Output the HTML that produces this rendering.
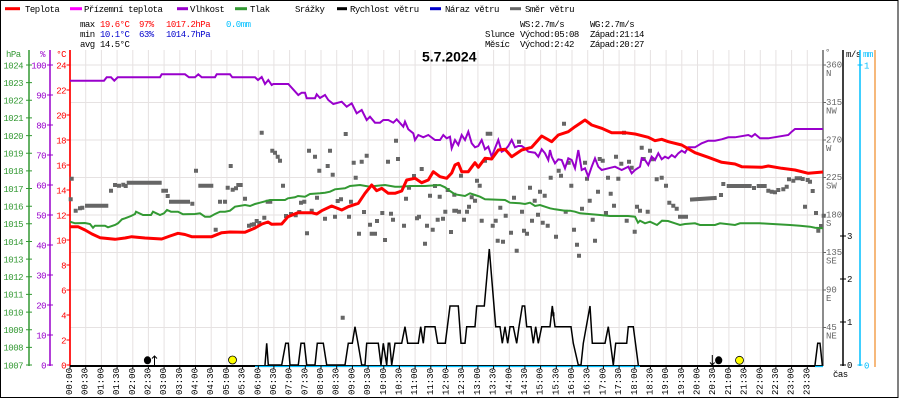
<!DOCTYPE html>
<html><head><meta charset="utf-8"><style>
body{margin:0;background:#fff}
svg{display:block}
.t{font-family:"Liberation Mono",monospace;font-size:9px;letter-spacing:-0.5px}
.b{font-family:"Liberation Mono",monospace;font-size:9px}
</style></head><body>
<svg width="900" height="400" viewBox="0 0 900 400" xmlns="http://www.w3.org/2000/svg">
<rect x="0" y="0" width="900" height="400" fill="#fff"/>
<rect x="0.5" y="0.5" width="897.5" height="397" fill="none" stroke="#000" stroke-width="1"/>

<!-- legend -->
<g class="t">
<line x1="5" y1="8.7" x2="20" y2="8.7" stroke="#ff0000" stroke-width="3"/><text x="25" y="12">Teplota</text>
<line x1="70" y1="8.7" x2="82" y2="8.7" stroke="#ff00ff" stroke-width="3"/><text x="84" y="12">Přízemní teplota</text>
<line x1="177" y1="8.7" x2="188" y2="8.7" stroke="#9900cc" stroke-width="3"/><text x="190" y="12">Vlhkost</text>
<line x1="235" y1="8.7" x2="247" y2="8.7" stroke="#339933" stroke-width="3"/><text x="250" y="12">Tlak</text>
<text x="295" y="12">Srážky</text>
<line x1="337" y1="8.7" x2="347" y2="8.7" stroke="#000" stroke-width="3"/><text x="350" y="12">Rychlost větru</text>
<line x1="430" y1="8.7" x2="441" y2="8.7" stroke="#0000cc" stroke-width="3"/><text x="445" y="12">Náraz větru</text>
<line x1="510" y1="8.7" x2="521" y2="8.7" stroke="#666" stroke-width="3"/><text x="525" y="12">Směr větru</text>

<text x="80" y="27">max</text><text x="100" y="27" fill="#ff0000">19.6°C</text><text x="139" y="27" fill="#ff0000">97%</text><text x="166" y="27" fill="#ff0000">1017.2hPa</text><text x="226" y="27" fill="#00bfff">0.0mm</text>
<text x="80" y="37">min</text><text x="100" y="37" fill="#0000cc">10.1°C</text><text x="139" y="37" fill="#0000cc">63%</text><text x="166" y="37" fill="#0000cc">1014.7hPa</text>
<text x="80" y="47">avg</text><text x="100" y="47">14.5°C</text>

<text x="520" y="27">WS:2.7m/s</text><text x="590" y="27">WG:2.7m/s</text>
<text x="485" y="37">Slunce</text><text x="520" y="37">Východ:05:08</text><text x="590" y="37">Západ:21:14</text>
<text x="485" y="47">Měsíc</text><text x="520" y="47">Východ:2:42</text><text x="590" y="47">Západ:20:27</text>
</g>

<!-- grid -->
<g stroke="#e6e2e2" stroke-width="1">
<path d="M70 65H823M70 102.5H823M70 140H823M70 177.5H823M70 215H823M70 252.5H823M70 290H823M70 327.5H823"/>
<path d="M85.7 50V365M101.4 50V365M117.1 50V365M132.8 50V365M148.4 50V365M164.1 50V365M179.8 50V365M195.5 50V365M211.2 50V365M226.9 50V365M242.6 50V365M258.3 50V365M273.9 50V365M289.6 50V365M305.3 50V365M321 50V365M336.7 50V365M352.4 50V365M368.1 50V365M383.8 50V365M399.4 50V365M415.1 50V365M430.8 50V365M446.5 50V365M462.2 50V365M477.9 50V365M493.6 50V365M509.3 50V365M524.9 50V365M540.6 50V365M556.3 50V365M572 50V365M587.7 50V365M603.4 50V365M619.1 50V365M634.8 50V365M650.4 50V365M666.1 50V365M681.8 50V365M697.5 50V365M713.2 50V365M728.9 50V365M744.6 50V365M760.3 50V365M775.9 50V365M791.6 50V365M807.3 50V365"/>
</g>

<text x="422" y="61.5" font-family="Liberation Sans, sans-serif" font-size="14" font-weight="bold">5.7.2024</text>

<!-- left axes -->
<g class="t" fill="#339933">
<text x="6" y="57">hPa</text>
</g>
<line x1="29" y1="50" x2="29" y2="366" stroke="#339933" stroke-width="1.5"/>
<g stroke="#339933" stroke-width="1"><path d="M26 65H32M26 82.6H32M26 100.3H32M26 117.9H32M26 135.6H32M26 153.2H32M26 170.9H32M26 188.5H32M26 206.2H32M26 223.8H32M26 241.5H32M26 259.1H32M26 276.8H32M26 294.4H32M26 312.1H32M26 329.7H32M26 347.4H32M26 365H32"/></g>
<g class="t" fill="#339933" text-anchor="end">
<text x="23" y="68.3">1024</text><text x="23" y="85.9">1023</text><text x="23" y="103.6">1022</text><text x="23" y="121.2">1021</text><text x="23" y="138.9">1020</text><text x="23" y="156.5">1019</text><text x="23" y="174.2">1018</text><text x="23" y="191.8">1017</text><text x="23" y="209.5">1016</text><text x="23" y="227.1">1015</text><text x="23" y="244.8">1014</text><text x="23" y="262.4">1013</text><text x="23" y="280.1">1012</text><text x="23" y="297.7">1011</text><text x="23" y="315.4">1010</text><text x="23" y="333">1009</text><text x="23" y="350.7">1008</text><text x="23" y="368.3">1007</text>
</g>

<line x1="50" y1="50" x2="50" y2="366" stroke="#9900cc" stroke-width="1.5"/>
<g stroke="#9900cc" stroke-width="1"><path d="M47 65H53M47 95H53M47 125H53M47 155H53M47 185H53M47 215H53M47 245H53M47 275H53M47 305H53M47 335H53M47 365H53"/></g>
<g class="t" fill="#9900cc" text-anchor="end">
<text x="45" y="57">%</text>
<text x="46" y="68.3">100</text><text x="46" y="98.3">90</text><text x="46" y="128.3">80</text><text x="46" y="158.3">70</text><text x="46" y="188.3">60</text><text x="46" y="218.3">50</text><text x="46" y="248.3">40</text><text x="46" y="278.3">30</text><text x="46" y="308.3">20</text><text x="46" y="338.3">10</text><text x="46" y="368.3">0</text>
</g>

<line x1="70" y1="50" x2="70" y2="366" stroke="#ff0000" stroke-width="1.7"/>
<g stroke="#ff0000" stroke-width="1"><path d="M66.5 65H70M66.5 90H70M66.5 115H70M66.5 140H70M66.5 165H70M66.5 190H70M66.5 215H70M66.5 240H70M66.5 265H70M66.5 290H70M66.5 315H70M66.5 340H70M66.5 365H70"/></g>
<g class="t" fill="#ff0000" text-anchor="end">
<text x="66" y="57">°C</text>
<text x="66" y="68.3">24</text><text x="66" y="93.3">22</text><text x="66" y="118.3">20</text><text x="66" y="143.3">18</text><text x="66" y="168.3">16</text><text x="66" y="193.3">14</text><text x="66" y="218.3">12</text><text x="66" y="243.3">10</text><text x="66" y="268.3">8</text><text x="66" y="293.3">6</text><text x="66" y="318.3">4</text><text x="66" y="343.3">2</text><text x="66" y="368.3">0</text>
</g>

<!-- right axes -->
<line x1="823" y1="50" x2="823" y2="366" stroke="#666" stroke-width="1.5"/>
<g stroke="#666" stroke-width="1"><path d="M823 65H826M823 102.5H826M823 140H826M823 177.5H826M823 215H826M823 252.5H826M823 290H826M823 327.5H826"/></g>
<g class="b" fill="#666">
<text x="825" y="55">°</text>
<text x="826" y="67.5">360</text><text x="826" y="76">N</text>
<text x="826" y="105">315</text><text x="826" y="113.5">NW</text>
<text x="826" y="142.5">270</text><text x="826" y="151">W</text>
<text x="826" y="180">225</text><text x="826" y="188.5">SW</text>
<text x="826" y="217.5">180</text><text x="826" y="226">S</text>
<text x="826" y="255">135</text><text x="826" y="263.5">SE</text>
<text x="826" y="292.5">90</text><text x="826" y="301">E</text>
<text x="826" y="330">45</text><text x="826" y="338.5">NE</text>
</g>

<line x1="843" y1="50" x2="843" y2="366" stroke="#000" stroke-width="1.5"/>
<g stroke="#000" stroke-width="1"><path d="M840 236H846M840 279H846M840 322H846M840 365H846"/></g>
<g class="t">
<text x="846" y="57">m/s</text>
<text x="847" y="239">3</text><text x="847" y="282">2</text><text x="847" y="325">1</text><text x="847" y="368">0</text>
<text x="833" y="377">čas</text>
</g>

<line x1="860" y1="50" x2="860" y2="366" stroke="#00bfff" stroke-width="1.5"/>
<g stroke="#00bfff" stroke-width="1"><path d="M857.5 65H862.5M857.5 365H862.5"/></g>
<g class="t" fill="#00bfff">
<text x="863" y="57">mm</text>
<text x="864" y="68.3">1</text><text x="864" y="368.3">0</text>
</g>
<line x1="875" y1="50" x2="875" y2="367" stroke="#f08a24" stroke-width="1.2"/>

<!-- wind direction -->
<path fill="none" stroke="#666" stroke-width="4" stroke-linecap="square" d="M71.7 178.7h.01M70.7 199.3h.01M75.7 210.7h.01M80 208.3h.01M82.3 207.7h.01M87 205.7H106.3M111 190.7h.01M115 185h.01M119 185.7h.01M123.3 184.7h.01M125.7 186h.01M128.7 182.7H159.7M163.3 190.7H166M167.7 196h.01M171 201.7H188M192.3 203.7h.01M196 170.7h.01M200.3 185.7H211.3M215.7 229.7h.01M220 201.7h.01M225 201.7h.01M227.7 187.7h.01M230.7 166h.01M232.7 189.7h.01M236 188.3h.01M238.3 185H240.7M245 198.7h.01M249 225.7h.01M251.7 224.7h.01M254 224.3h.01M256.7 221h.01M259.3 223h.01M261.7 132.7h.01M264.3 217.7h.01
M267.7 201.7H270.3M272.3 150.7h.01M275 152.7h.01M277.7 156.7h.01M280 160.7h.01M283 185.7h.01M286 216h.01M291 214h.01M295.7 215.3h.01M299.3 212h.01M301 202.7h.01M304.3 201.7h.01M307 233.3h.01M309 150.7h.01M311.7 210.7h.01M315 156.7h.01M317 197.7h.01M319.3 170.7h.01M325 218.7h.01M327.7 166h.01M330 150.7h.01M332.7 174.7h.01M335 216.7h.01M337.7 201h.01M341 199.3h.01M342.7 317.7h.01M345.7 134h.01M349 216.7h.01M351 201.7h.01M353.7 162.7h.01M355.7 177.7h.01M359 233.7h.01M361.7 161.7h.01M364 212h.01M366.7 155.7h.01M370 224.7h.01M371.7 233.7H375M377 221h.01M382.3 213h.01M385 240h.01M388 161.7h.01M391 213.7h.01M393 219.7h.01M396 140.7h.01M398 159h.01M404 225.7h.01M406 198.7h.01M409 187.7h.01M414 176h.01M417 218.3h.01M419 216.7h.01M421.7 169h.01M425 243.7h.01M427 225.7h.01M430 195.7h.01M432.7 229.7h.01M435 186h.01M437.7 219.7h.01M439.7 196.7h.01M443 218.7h.01M445.3 211.7h.01M447.7 190h.01M451 232h.01M454.3 210.7h.01
M454.3 194.7h.01M456 210.7h.01M459 211.7h.01M461 175.7h.01M464 219.7h.01M467 211.7h.01M469 206.7h.01M471.7 197.3h.01M475 200.7h.01M477 180.7h.01M479.7 185.7h.01M481.7 220.7h.01M485 160.7h.01M487.7 133.7H490.3M492.7 225.7h.01M495.7 220.7h.01M497.7 240.7h.01M503 241.7h.01M500.3 207.7h.01M505.7 215.7h.01M511 232.7h.01M514 197.7h.01M516.7 250.7h.01M519 141.7h.01M522 211.7h.01M524 230.7h.01M527 233.7h.01M530 187.7h.01M532 220.7h.01M534.7 200.7h.01M538 214.7h.01M540 191.7h.01M542.7 222.7h.01M547.7 225.7h.01M544.7 195.7h.01M550.7 177.7h.01M552.7 314.3h.01M556 236.7h.01M558.7 170.7h.01M561 175.7h.01M564 123.7h.01M565.7 211.7h.01M568.7 162.7h.01M571.3 185.7h.01M574 229.7h.01M577 244.7h.01M579 255.7h.01M582 208.7h.01M585 162.7h.01M587 178.7h.01M589.7 200.7h.01M592.7 219.7h.01M595 240.7h.01M598 191.7h.01M599.7 159h.01M602.7 160.7h.01M606 213h.01M608 177.7h.01M610.7 193.7h.01M614 205.7h.01M616 156.7h.01M618.3 178.7h.01M621.3 163.7h.01M624 132.7h.01M626.7 220.7h.01M629 161.7h.01M631.7 167.7h.01M634.7 231.7h.01M637 206.7h.01M640 210.7h.01M641.7 147.7h.01M643.7 159h.01
M647.7 211.7h.01M650 150.7h.01M652.3 159.3h.01M656.7 179.3h.01M661.7 177.7h.01M666 185.7h.01M669.3 202.7h.01M673.3 205.7h.01M676.7 208.7h.01M680 216.7H686M692 199.5L714.7 198M721 195h.01M723.3 184h.01M728.7 186H749.7M754 188h.01M758.7 186H764.7M768.3 190.7h.01M771.7 191.7h.01M775 192.3h.01M778.3 190h.01M783.3 189.3h.01M786.7 186.7h.01M789 179.3h.01M793.3 180.7h.01M796.7 178.3h.01M800 178.3h.01M802.7 179h.01M807.7 180h.01M810 181.7h.01M812.7 191h.01M805 206.7h.01M816 213h.01M818.3 230.7h.01M821 226h.01M823.7 215.7h.01"/>

<!-- pressure -->
<polyline fill="none" stroke="#339933" stroke-width="2" points="70,221.7 75,223.3 85,223 90,224 93,227.7 95,225.7 105,225.7 108,227.3 115,225 118,223.3 122,219.3 125,218.3 131,216 135,214 136,211.7 143,215 151,215 153,211.7 160,215 164,213.3 167,210 171,211.7 178,211.7 183,214.3 195,214 200,213.3 205,216.7 210,216.7 215,214 220,211.7 225,211.7 230,210.7 235,206.7 245,205 250,206 255,204 260,202.7 270,200 285,200 288,198.3 295,197.3 298,196 305,196.7 310,194 320,193.3 325,192.7 330,191.7 335,189.3 345,188.3 350,186 360,185 370,186.7 375,186 385,185 395,186.7 400,186.7 410,186 425,186 440,185 445,187.3 450,191 455,194.3 465,196 470,193.3 475,195 480,196.7 485,199.3 505,200 510,202.7 520,203.3 525,204 530,202.7 535,206 540,205 545,206.7 550,208.3 555,209.3 565,210.7 570,210.7 575,211.7 580,213.3 600,215 610,216 628,216 635,216.7 638,222.7 640,220.7 645,223.3 650,221.7 657,225 662,220.7 668,221 675,223.3 680,225 685,224 695,223.3 700,225 715,225 720,223.3 735,225 740,223.3 760,223.3 790,225 800,225.7 810,226.7 815,227.7 823,228.3"/>

<!-- humidity -->
<polyline fill="none" stroke="#9900cc" stroke-width="2" points="70,80.7 104,80.7 106.7,77.3 111,77.3 114.3,80.7 117.7,77.3 160,77.3 161.7,74.3 185,74.3 189,77.3 195,77.3 198.3,74.3 201.7,77.3 215,77.3 216.7,74.3 230,74.3 232.3,77.3 255,77.3 258,80 261.7,77 265,84 268.3,80 271.7,85 273.3,84 288.3,84 298.3,95 301.7,92.7 305,92.7 306.7,98.3 315,98.3 316.7,94.3 320,98 325,95 328.3,100 333.3,104 341.7,101.7 346.7,106.7 351.7,103.3 356.7,113.3 361.7,110 366.7,120 370,116.7 375,122.7 380,122.7 383.3,120 388.3,120 393.3,122.7 396.7,119.3 403.3,126.7 405,121.7 408.3,129.3 413.3,133.3 415,140 418.3,135 423.3,137.3 428.3,135 435,140 440,140 443.3,135 446.7,138.3 450,136.7 451.7,148.3 455,140 458.3,145 461.7,135 465,140 468.3,131.7 471.7,143.3 475,147.3 478.3,146 481.7,140 485,149.3 488.3,146.7 491.7,156.7 495,148.3 498.3,140 501.7,151.7 505,150 508.3,146 511.7,140 515,147.3 518.3,146 521.7,146 525,148.3 528.3,151.7 535,152.7 538.3,156.7 541.7,149.3 545,153.3 548.3,160 550,150 551.7,156.7 555,163.3 558.3,159.3 561.7,160 565,168.3 568.3,158.3 571.7,160 575,168.3 578.3,150 581.7,170 585,168.3 588.3,176.7 591.7,166.7 595,158.3 598.3,166.7 601.7,170 608.3,168.3 615,166.7 621.7,170 628.3,166.7 631.7,173.3 635,170 640,166.7 641.7,158.3 645,160 648.3,165 651.7,156.7 655,160 658.3,153.3 661.7,159.3 665,156.7 668.3,158.3 671.7,155 675,157.3 678.3,153.3 681.7,150.7 685,152.7 688.3,147.3 695,147.3 701.7,143.3 708.3,140.7 715,140.7 721.7,139.3 728.3,137.3 735,137.3 748.3,135 751.7,136.7 755,134 760,138.3 768.3,138.3 788.3,135 791.7,131.7 795,129 823,129"/>

<!-- temperature -->
<polyline fill="none" stroke="#ff0000" stroke-width="3" stroke-linejoin="round" points="70,226.7 78,226.7 85,230 92,234 100,237.7 115,239.3 125,238 131.7,236.7 145,238 161.7,239 170,236 178,233.3 185,234.5 191.7,236.7 211.7,236.7 221.7,232.7 230,232 245,232.3 255,228 262,224 268,222 271.7,224.3 281.7,224 288,216.7 298,212.7 311.7,212.7 316.7,214 321.7,210.7 331.7,206 341.7,210 348.3,206.7 358.3,203.3 365,193.3 371.7,185 376.7,190.7 381.7,188.3 388.3,193.3 395,193.3 401.7,191 406.7,180 415,178.3 421.7,182.7 428.3,180 433.3,171.7 440,176.7 446.7,178.3 451.7,173 455,165 458.3,163.3 461.7,171.7 468.3,171.7 475,162.7 478.3,167.3 485,158.3 491.7,159 498.3,150 505,149.3 511.7,156.7 521.7,150 531.7,147.3 541.7,136 551.7,141.7 558.3,135 568.3,131.7 575,126.7 585,120 591.7,125 601.7,128.3 611.7,132.7 625,132.7 635,134 648.3,137.3 655,140.7 661.7,139.3 668.3,141.7 681.7,145 695,152.7 708.3,157.3 721.7,162.3 735,164 741.7,166.7 761.7,167.3 768.3,166 781.7,168.3 795,170 808.3,173.3 823,172"/>

<!-- baseline / precipitation -->
<line x1="70" y1="366" x2="823" y2="366" stroke="#000" stroke-width="2"/>
<path d="M255 366.5H640M815 366.5H823" stroke="#00bfff" stroke-width="1.2"/>
<g stroke="#000" stroke-width="1"><path d="M70 366V369M85.7 366V369M101.4 366V369M117.1 366V369M132.8 366V369M148.4 366V369M164.1 366V369M179.8 366V369M195.5 366V369M211.2 366V369M226.9 366V369M242.6 366V369M258.3 366V369M273.9 366V369M289.6 366V369M305.3 366V369M321 366V369M336.7 366V369M352.4 366V369M368.1 366V369M383.8 366V369M399.4 366V369M415.1 366V369M430.8 366V369M446.5 366V369M462.2 366V369M477.9 366V369M493.6 366V369M509.3 366V369M524.9 366V369M540.6 366V369M556.3 366V369M572 366V369M587.7 366V369M603.4 366V369M619.1 366V369M634.8 366V369M650.4 366V369M666.1 366V369M681.8 366V369M697.5 366V369M713.2 366V369M728.9 366V369M744.6 366V369M760.3 366V369M775.9 366V369M791.6 366V369M807.3 366V369"/></g>

<!-- wind speed -->
<polyline fill="none" stroke="#000" stroke-width="1.5" points="265,365 266.7,343.3 268.3,365 281.7,365 285.7,343.3 288.3,343.3 290,365 298.3,365 301,343.3 304.3,343.3 306.7,365 315,365 317.3,343.3 323.3,343.3 326.7,365 345,365 348.3,343.3 352.3,343.3 355,326.7 358,343.3 361.7,365 365,365 366.7,343.3 378.3,343.3 381,365 383.3,343.3 386.7,365 388.3,343.3 389.7,343.3 391.7,365 395,343.3 401.7,343.3 405,326.7 407.7,343.3 418.3,343.3 420.7,326.7 423.3,343.3 425,326.7 435,326.7 437.7,343.3 445.3,343.3 450,306 458.3,306 461,343.3 465,343.3 466.7,326.7 475,326.7 476.7,306 484.3,306 489.3,249 495.7,326.7 500,326.7 502.3,343.3 505,326.7 507.7,343.3 510,326.7 513.3,326.7 516.7,343.3 519,326.7 522.3,306 524.7,306 526.7,326.7 531,326.7 533.3,343.3 535.7,326.7 538.3,343.3 541.7,326.7 550,326.7 552.3,306 555,326.7 571,326.7 573.3,343.3 578.3,365 581,365 583.3,343.3 590,306 592.3,343.3 605,343.3 608.3,326.7 613.3,365 615.7,343.3 626.7,343.3 628.3,326.7 633.3,326.7 638.3,365"/>
<polyline fill="none" stroke="#000" stroke-width="1.5" points="815,365 817.7,343.3 820,343.3 822.3,365"/>

<!-- sun / moon -->
<ellipse cx="147.5" cy="360.3" rx="3.6" ry="4" fill="#000"/>
<path d="M154.5 365V356M152 358.5L154.5 356L157 358.5" fill="none" stroke="#000" stroke-width="1"/>
<circle cx="232.5" cy="360" r="4" fill="#ffff00" stroke="#000" stroke-width="0.8"/>
<path d="M712.3 355V365M710 362.5L712.3 365L714.6 362.5" fill="none" stroke="#000" stroke-width="1"/>
<ellipse cx="718.7" cy="360.3" rx="3.6" ry="4" fill="#000"/>
<circle cx="739.5" cy="360.3" r="4" fill="#ffff00" stroke="#000" stroke-width="0.8"/>

<!-- x labels -->
<g class="b" text-anchor="end">
<text transform="translate(72,368) rotate(-90)">00:00</text>
<text transform="translate(87.7,368) rotate(-90)">00:30</text>
<text transform="translate(103.4,368) rotate(-90)">01:00</text>
<text transform="translate(119.1,368) rotate(-90)">01:30</text>
<text transform="translate(134.8,368) rotate(-90)">02:00</text>
<text transform="translate(150.4,368) rotate(-90)">02:30</text>
<text transform="translate(166.1,368) rotate(-90)">03:00</text>
<text transform="translate(181.8,368) rotate(-90)">03:30</text>
<text transform="translate(197.5,368) rotate(-90)">04:00</text>
<text transform="translate(213.2,368) rotate(-90)">04:30</text>
<text transform="translate(228.9,368) rotate(-90)">05:00</text>
<text transform="translate(244.6,368) rotate(-90)">05:30</text>
<text transform="translate(260.3,368) rotate(-90)">06:00</text>
<text transform="translate(275.9,368) rotate(-90)">06:30</text>
<text transform="translate(291.6,368) rotate(-90)">07:00</text>
<text transform="translate(307.3,368) rotate(-90)">07:30</text>
<text transform="translate(323,368) rotate(-90)">08:00</text>
<text transform="translate(338.7,368) rotate(-90)">08:30</text>
<text transform="translate(354.4,368) rotate(-90)">09:00</text>
<text transform="translate(370.1,368) rotate(-90)">09:30</text>
<text transform="translate(385.8,368) rotate(-90)">10:00</text>
<text transform="translate(401.4,368) rotate(-90)">10:30</text>
<text transform="translate(417.1,368) rotate(-90)">11:00</text>
<text transform="translate(432.8,368) rotate(-90)">11:30</text>
<text transform="translate(448.5,368) rotate(-90)">12:00</text>
<text transform="translate(464.2,368) rotate(-90)">12:30</text>
<text transform="translate(479.9,368) rotate(-90)">13:00</text>
<text transform="translate(495.6,368) rotate(-90)">13:30</text>
<text transform="translate(511.3,368) rotate(-90)">14:00</text>
<text transform="translate(526.9,368) rotate(-90)">14:30</text>
<text transform="translate(542.6,368) rotate(-90)">15:00</text>
<text transform="translate(558.3,368) rotate(-90)">15:30</text>
<text transform="translate(574,368) rotate(-90)">16:00</text>
<text transform="translate(589.7,368) rotate(-90)">16:30</text>
<text transform="translate(605.4,368) rotate(-90)">17:00</text>
<text transform="translate(621.1,368) rotate(-90)">17:30</text>
<text transform="translate(636.8,368) rotate(-90)">18:00</text>
<text transform="translate(652.4,368) rotate(-90)">18:30</text>
<text transform="translate(668.1,368) rotate(-90)">19:00</text>
<text transform="translate(683.8,368) rotate(-90)">19:30</text>
<text transform="translate(699.5,368) rotate(-90)">20:00</text>
<text transform="translate(715.2,368) rotate(-90)">20:30</text>
<text transform="translate(730.9,368) rotate(-90)">21:00</text>
<text transform="translate(746.6,368) rotate(-90)">21:30</text>
<text transform="translate(762.3,368) rotate(-90)">22:00</text>
<text transform="translate(777.9,368) rotate(-90)">22:30</text>
<text transform="translate(793.6,368) rotate(-90)">23:00</text>
<text transform="translate(809.3,368) rotate(-90)">23:30</text>
</g>
</svg>
</body></html>
